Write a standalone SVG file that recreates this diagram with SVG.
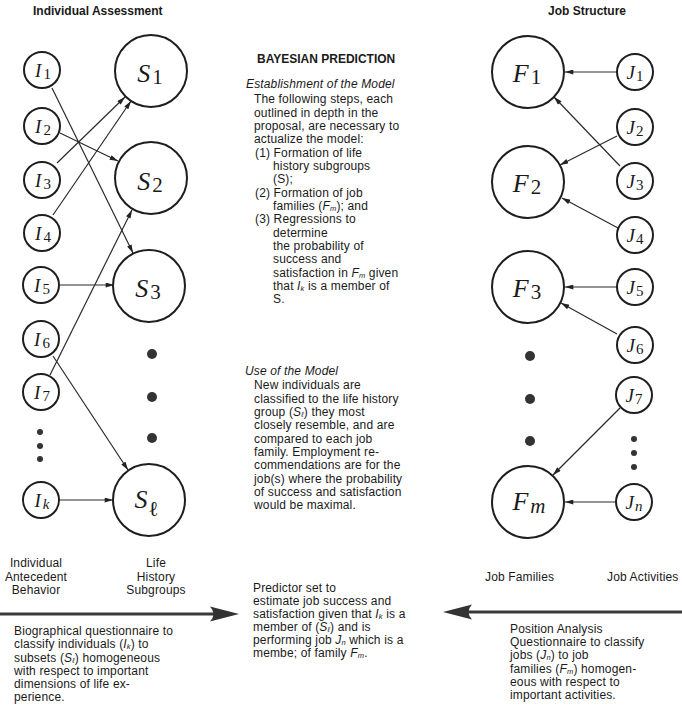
<svg xmlns="http://www.w3.org/2000/svg" width="682" height="706" viewBox="0 0 682 706">
  <style>
    .ring { fill: #fff; stroke: #1e1e1e; stroke-width: 2; }
    .dot { fill: #333; }
    .edge { fill: none; stroke: #2a2a2a; stroke-width: 1.2; }
    .flow { fill: none; stroke: #3a3a3a; stroke-width: 3; }
    .head { fill: #333; }
    .lv { font-family: "Liberation Serif", "DejaVu Serif", serif; font-style: italic; fill: #1a1a1a; }
    .big { font-size: 26px; }
    .small { font-size: 19px; }
    .bsub { font-size: 21px; font-style: normal; }
    .ssub { font-size: 15px; font-style: normal; }
    .isub { font-style: italic; }
    .t { font-family: "Liberation Sans", Arial, sans-serif; font-size: 12px; letter-spacing: 0.15px; fill: #1a1a1a; }
    .h { font-family: "Liberation Sans", Arial, sans-serif; font-size: 12px; font-weight: bold; fill: #1a1a1a; }
    .it { font-style: italic; }
    .sb { font-size: 7.5px; font-style: italic; }
  </style>
  <defs>
    <marker id="ah" viewBox="0 0 10 6" refX="10" refY="3" markerWidth="9" markerHeight="5" markerUnits="userSpaceOnUse" orient="auto">
      <path d="M0,0 L10,3 L0,6 Z" fill="#222"/>
    </marker>
  </defs>

  <!-- column headings -->
  <text class="h" x="33" y="15">Individual Assessment</text>
  <text class="h" x="548" y="15">Job Structure</text>

  <!-- connectors -->
  <g id="connectors">
    <line class="edge" x1="52" y1="88" x2="133" y2="253" marker-end="url(#ah)"/>
    <line class="edge" x1="60" y1="133" x2="118" y2="161" marker-end="url(#ah)"/>
    <line class="edge" x1="57" y1="163" x2="125" y2="97" marker-end="url(#ah)"/>
    <line class="edge" x1="53" y1="215" x2="131" y2="101" marker-end="url(#ah)"/>
    <line class="edge" x1="60" y1="285" x2="114" y2="285" marker-end="url(#ah)"/>
    <line class="edge" x1="53" y1="356" x2="128" y2="470" marker-end="url(#ah)"/>
    <line class="edge" x1="50" y1="375" x2="132" y2="210" marker-end="url(#ah)"/>
    <line class="edge" x1="59" y1="500" x2="113" y2="500" marker-end="url(#ah)"/>

    <line class="edge" x1="617" y1="72" x2="565" y2="72" marker-end="url(#ah)"/>
    <line class="edge" x1="617" y1="136" x2="560" y2="165" marker-end="url(#ah)"/>
    <line class="edge" x1="620" y1="166" x2="554" y2="97" marker-end="url(#ah)"/>
    <line class="edge" x1="618" y1="228" x2="562" y2="198" marker-end="url(#ah)"/>
    <line class="edge" x1="617" y1="287" x2="565" y2="287" marker-end="url(#ah)"/>
    <line class="edge" x1="617" y1="334" x2="561" y2="303" marker-end="url(#ah)"/>
    <line class="edge" x1="620" y1="408" x2="553" y2="475" marker-end="url(#ah)"/>
    <line class="edge" x1="616" y1="502" x2="565" y2="502" marker-end="url(#ah)"/>
  </g>

  <!-- individual nodes -->
  <g id="I1"><circle class="ring" cx="42" cy="70" r="18"/><text class="lv small" x="43" y="77" text-anchor="middle">I<tspan class="ssub" dx="2" dy="2">1</tspan></text></g>
  <g id="I2"><circle class="ring" cx="42" cy="126" r="18"/><text class="lv small" x="43" y="133" text-anchor="middle">I<tspan class="ssub" dx="2" dy="2">2</tspan></text></g>
  <g id="I3"><circle class="ring" cx="42" cy="180" r="18"/><text class="lv small" x="43" y="187" text-anchor="middle">I<tspan class="ssub" dx="2" dy="2">3</tspan></text></g>
  <g id="I4"><circle class="ring" cx="42" cy="233" r="18"/><text class="lv small" x="43" y="240" text-anchor="middle">I<tspan class="ssub" dx="2" dy="2">4</tspan></text></g>
  <g id="I5"><circle class="ring" cx="41" cy="285" r="18"/><text class="lv small" x="42" y="292" text-anchor="middle">I<tspan class="ssub" dx="2" dy="2">5</tspan></text></g>
  <g id="I6"><circle class="ring" cx="41" cy="339" r="18"/><text class="lv small" x="42" y="346" text-anchor="middle">I<tspan class="ssub" dx="2" dy="2">6</tspan></text></g>
  <g id="I7"><circle class="ring" cx="41" cy="392" r="18"/><text class="lv small" x="42" y="399" text-anchor="middle">I<tspan class="ssub" dx="2" dy="2">7</tspan></text></g>
  <g id="I-more"><circle class="dot" cx="40" cy="432" r="3"/><circle class="dot" cx="40" cy="446" r="3"/><circle class="dot" cx="40" cy="459" r="3"/></g>
  <g id="Ik"><circle class="ring" cx="41" cy="500" r="18"/><text class="lv small" x="42" y="507" text-anchor="middle">I<tspan class="ssub isub" dx="2" dy="2">k</tspan></text></g>

  <!-- life history subgroups -->
  <g id="S1"><circle class="ring" cx="151" cy="71" r="36"/><text class="lv big" x="150" y="82" text-anchor="middle">S<tspan class="bsub" dx="2" dy="2">1</tspan></text></g>
  <g id="S2"><circle class="ring" cx="151" cy="178" r="36"/><text class="lv big" x="150" y="190" text-anchor="middle">S<tspan class="bsub" dx="2" dy="2">2</tspan></text></g>
  <g id="S3"><circle class="ring" cx="149" cy="286" r="36"/><text class="lv big" x="148" y="297" text-anchor="middle">S<tspan class="bsub" dx="2" dy="2">3</tspan></text></g>
  <g id="S-more"><circle class="dot" cx="152" cy="354" r="5"/><circle class="dot" cx="152" cy="397" r="5"/><circle class="dot" cx="152" cy="438" r="5"/></g>
  <g id="Sl"><circle class="ring" cx="149" cy="500" r="36"/><text class="lv big" x="146" y="508" text-anchor="middle">S<tspan class="bsub" font-weight="bold" font-style="normal" dx="2" dy="8">ℓ</tspan></text></g>

  <!-- job families -->
  <g id="F1"><circle class="ring" cx="528" cy="72" r="36"/><text class="lv big" x="527" y="82" text-anchor="middle">F<tspan class="bsub" dx="2" dy="2">1</tspan></text></g>
  <g id="F2"><circle class="ring" cx="528" cy="182" r="36"/><text class="lv big" x="527" y="192" text-anchor="middle">F<tspan class="bsub" dx="2" dy="2">2</tspan></text></g>
  <g id="F3"><circle class="ring" cx="528" cy="287" r="36"/><text class="lv big" x="527" y="297" text-anchor="middle">F<tspan class="bsub" dx="2" dy="2">3</tspan></text></g>
  <g id="F-more"><circle class="dot" cx="530" cy="356" r="5"/><circle class="dot" cx="530" cy="399" r="5"/><circle class="dot" cx="530" cy="441" r="5"/></g>
  <g id="Fm"><circle class="ring" cx="528" cy="502" r="36"/><text class="lv big" x="529" y="510" text-anchor="middle">F<tspan class="bsub isub" dx="2" dy="3">m</tspan></text></g>

  <!-- job activities -->
  <g id="J1"><circle class="ring" cx="635" cy="72" r="18"/><text class="lv small" x="635" y="79" text-anchor="middle">J<tspan class="ssub" dx="1" dy="2">1</tspan></text></g>
  <g id="J2"><circle class="ring" cx="635" cy="127" r="18"/><text class="lv small" x="635" y="134" text-anchor="middle">J<tspan class="ssub" dx="1" dy="2">2</tspan></text></g>
  <g id="J3"><circle class="ring" cx="635" cy="181" r="18"/><text class="lv small" x="635" y="188" text-anchor="middle">J<tspan class="ssub" dx="1" dy="2">3</tspan></text></g>
  <g id="J4"><circle class="ring" cx="635" cy="235" r="18"/><text class="lv small" x="635" y="242" text-anchor="middle">J<tspan class="ssub" dx="1" dy="2">4</tspan></text></g>
  <g id="J5"><circle class="ring" cx="635" cy="287" r="18"/><text class="lv small" x="635" y="294" text-anchor="middle">J<tspan class="ssub" dx="1" dy="2">5</tspan></text></g>
  <g id="J6"><circle class="ring" cx="635" cy="345" r="18"/><text class="lv small" x="635" y="352" text-anchor="middle">J<tspan class="ssub" dx="1" dy="2">6</tspan></text></g>
  <g id="J7"><circle class="ring" cx="634" cy="395" r="18"/><text class="lv small" x="634" y="402" text-anchor="middle">J<tspan class="ssub" dx="1" dy="2">7</tspan></text></g>
  <g id="J-more"><circle class="dot" cx="634" cy="439" r="3"/><circle class="dot" cx="634" cy="453" r="3"/><circle class="dot" cx="634" cy="467" r="3"/></g>
  <g id="Jn"><circle class="ring" cx="634" cy="502" r="18"/><text class="lv small" x="634" y="509" text-anchor="middle">J<tspan class="ssub isub" dx="1" dy="2">n</tspan></text></g>

  <!-- central explanation -->
  <g id="prediction">
    <text class="h" x="257" y="63">BAYESIAN PREDICTION</text>
    <text class="t it" x="246" y="88">Establishment of the Model</text>
    <text class="t" x="254" y="103">The following steps, each</text>
    <text class="t" x="254" y="117">outlined in depth in the</text>
    <text class="t" x="254" y="130">proposal, are necessary to</text>
    <text class="t" x="254" y="143">actualize the model:</text>
    <text class="t" x="255" y="157">(1) Formation of life</text>
    <text class="t" x="273" y="170">history subgroups</text>
    <text class="t" x="273" y="183">(S);</text>
    <text class="t" x="255" y="197">(2) Formation of job</text>
    <text class="t" x="273" y="210">families (<tspan class="it">F</tspan><tspan class="sb" dy="1">m</tspan><tspan dy="-1">); and</tspan></text>
    <text class="t" x="255" y="223">(3) Regressions to</text>
    <text class="t" x="273" y="237">determine</text>
    <text class="t" x="273" y="250">the probability of</text>
    <text class="t" x="273" y="263">success and</text>
    <text class="t" x="273" y="277">satisfaction in <tspan class="it">F</tspan><tspan class="sb" dy="1">m</tspan><tspan dy="-1"> given</tspan></text>
    <text class="t" x="273" y="290">that <tspan class="it">I</tspan><tspan class="sb" dy="1">k</tspan><tspan dy="-1"> is a member of</tspan></text>
    <text class="t" x="273" y="303">S.</text>

    <text class="t it" x="245" y="375">Use of the Model</text>
    <text class="t" x="254" y="389">New individuals are</text>
    <text class="t" x="254" y="403">classified to the life history</text>
    <text class="t" x="254" y="416">group (<tspan class="it">S</tspan><tspan class="sb" dy="1">ℓ</tspan><tspan dy="-1">) they most</tspan></text>
    <text class="t" x="254" y="429">closely resemble, and are</text>
    <text class="t" x="254" y="443">compared to each job</text>
    <text class="t" x="254" y="456">family. Employment re-</text>
    <text class="t" x="254" y="469">commendations are for the</text>
    <text class="t" x="254" y="483">job(s) where the probability</text>
    <text class="t" x="254" y="496">of success and satisfaction</text>
    <text class="t" x="254" y="509">would be maximal.</text>
  </g>

  <!-- column captions -->
  <g id="captions">
    <text class="t" x="36" y="567" text-anchor="middle">Individual</text>
    <text class="t" x="36" y="581" text-anchor="middle">Antecedent</text>
    <text class="t" x="36" y="594" text-anchor="middle">Behavior</text>
    <text class="t" x="156" y="567" text-anchor="middle">Life</text>
    <text class="t" x="156" y="581" text-anchor="middle">History</text>
    <text class="t" x="156" y="594" text-anchor="middle">Subgroups</text>
    <text class="t" x="485" y="581">Job Families</text>
    <text class="t" x="607" y="581">Job Activities</text>
  </g>

  <!-- converging flows -->
  <g id="flows">
    <line class="flow" x1="0" y1="614" x2="216" y2="614"/>
    <path class="head" d="M239,614 L210,606.5 Q217,614 210,621.5 Z"/>
    <line class="flow" x1="467" y1="612" x2="682" y2="612"/>
    <path class="head" d="M443,612 L472,604.5 Q465,612 472,619.5 Z"/>
  </g>

  <g id="notes">
    <text class="t" x="14" y="635">Biographical questionnaire to</text>
    <text class="t" x="14" y="648">classify individuals (<tspan class="it">I</tspan><tspan class="sb" dy="1">k</tspan><tspan dy="-1">) to</tspan></text>
    <text class="t" x="14" y="662">subsets (<tspan class="it">S</tspan><tspan class="sb" dy="1">ℓ</tspan><tspan dy="-1">) homogeneous</tspan></text>
    <text class="t" x="14" y="675">with respect to important</text>
    <text class="t" x="14" y="688">dimensions of life ex-</text>
    <text class="t" x="14" y="701">perience.</text>

    <text class="t" x="253" y="592">Predictor set to</text>
    <text class="t" x="253" y="605">estimate job success and</text>
    <text class="t" x="253" y="618">satisfaction given that <tspan class="it">I</tspan><tspan class="sb" dy="1">k</tspan><tspan dy="-1"> is a</tspan></text>
    <text class="t" x="253" y="631">member of (<tspan class="it">S</tspan><tspan class="sb" dy="1">ℓ</tspan><tspan dy="-1">) and is</tspan></text>
    <text class="t" x="253" y="644">performing job <tspan class="it">J</tspan><tspan class="sb" dy="1">n</tspan><tspan dy="-1"> which is a</tspan></text>
    <text class="t" x="253" y="657">membe; of family <tspan class="it">F</tspan><tspan class="sb" dy="1">m</tspan><tspan dy="-1">.</tspan></text>

    <text class="t" x="510" y="633">Position Analysis</text>
    <text class="t" x="510" y="646">Questionnaire to classify</text>
    <text class="t" x="510" y="659">jobs (<tspan class="it">J</tspan><tspan class="sb" dy="1">n</tspan><tspan dy="-1">) to job</tspan></text>
    <text class="t" x="510" y="673">families (<tspan class="it">F</tspan><tspan class="sb" dy="1">m</tspan><tspan dy="-1">) homogen-</tspan></text>
    <text class="t" x="510" y="686">eous with respect to</text>
    <text class="t" x="510" y="699">important activities.</text>
  </g>
</svg>
